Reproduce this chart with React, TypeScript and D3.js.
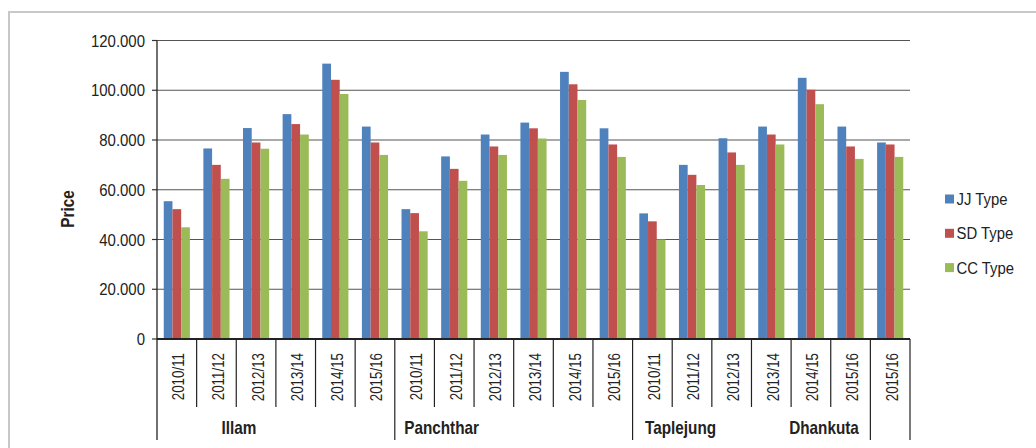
import React from "react";
import * as d3 from "d3";

const districts = ["Illam", "Panchthar", "Taplejung", "Dhankuta"];
const districtCounts = [6, 6, 6, 1];
const districtLabelAt = [2.07, 7.18, 13.21, 16.83];
const years = [
  "2010/11", "2011/12", "2012/13", "2013/14", "2014/15", "2015/16",
  "2010/11", "2011/12", "2012/13", "2013/14", "2014/15", "2015/16",
  "2010/11", "2011/12", "2012/13", "2013/14", "2014/15", "2015/16",
  "2015/16",
];
const seriesNames = ["JJ Type", "SD Type", "CC Type"];
const jj = [55.4, 76.6, 84.8, 90.4, 110.7, 85.4, 52.2, 73.4, 82.2, 87.0, 107.4, 84.7, 50.5, 70.0, 80.7, 85.4, 105.0, 85.4, 79.0];
const sd = [52.2, 70.0, 79.0, 86.4, 104.2, 79.0, 50.6, 68.4, 77.4, 84.7, 102.4, 78.2, 47.3, 66.0, 75.0, 82.2, 100.2, 77.4, 78.2];
const cc = [44.9, 64.4, 76.5, 82.2, 98.5, 74.0, 43.3, 63.6, 74.0, 80.6, 96.1, 73.2, 40.0, 61.9, 70.0, 78.2, 94.4, 72.4, 73.2];
const yTicks = [0, 20, 40, 60, 80, 100, 120];
const colors = ["#4F81BD", "#C0504D", "#9BBB59"];

const FONT = "'Liberation Sans', Arial, sans-serif";
const W = 1036;
const H = 448;
const left = 157;
const right = 910;
const top = 40.5;
const bottom = 339;

type TProps = {
  x: number;
  y: number;
  rotate?: number;
  sx: number;
  size: number;
  anchor: "start" | "middle" | "end";
  bold?: boolean;
  children: React.ReactNode;
};

function T({ x, y, rotate = 0, sx, size, anchor, bold, children }: TProps) {
  return (
    <text
      transform={`translate(${x},${y}) rotate(${rotate}) scale(${sx},1)`}
      textAnchor={anchor}
      dy="0.36em"
      fontFamily={FONT}
      fontSize={size}
      fontWeight={bold ? "bold" : "normal"}
      fill="#222"
    >
      {children}
    </text>
  );
}

export default function App() {
  const series = [jj, sd, cc];
  const idx = years.map((_, i) => i);
  const x = d3.scaleBand<number>().domain(idx).range([left, right]).paddingInner(0).paddingOuter(0);
  const y = d3.scaleLinear().domain([0, 120]).range([bottom, top]);
  const bw = x.bandwidth();
  const inner = d3.scaleBand<number>().domain([0, 1, 2]).range([0, bw * 0.66]);
  const groupOffset = (bw - bw * 0.66) / 2;

  const bounds: number[] = [0];
  districtCounts.reduce((acc, c) => {
    bounds.push(acc + c);
    return acc + c;
  }, 0);
  const posAt = (k: number) => left + k * bw;

  return (
    <svg width={W} height={H} style={{ display: "block", position: "absolute", left: 0, top: 0 }}>
      <rect x={0} y={0} width={W} height={H} fill="#fff" />
      <rect x={9} y={12} width={W + 20} height={H + 20} fill="none" stroke="#c8c8c8" strokeWidth={2} />
      {yTicks.map((t) => (
        <g key={t}>
          {t > 0 && <line x1={left} x2={right} y1={y(t)} y2={y(t)} stroke="#555" strokeWidth={1.2} />}
          <line x1={left - 5} x2={left} y1={y(t)} y2={y(t)} stroke="#333" strokeWidth={1.2} />
          <T x={left - 12} y={y(t)} sx={0.88} size={17} anchor="end">
            {t === 0 ? "0" : d3.format(".3f")(t)}
          </T>
        </g>
      ))}
      {idx.map((i) =>
        series.map((s, k) => (
          <rect
            key={`${i}-${k}`}
            x={(x(i) as number) + groupOffset + (inner(k) as number)}
            y={y(s[i])}
            width={inner.bandwidth()}
            height={bottom - y(s[i])}
            fill={colors[k]}
          />
        ))
      )}
      <line x1={left} x2={left} y1={top} y2={440} stroke="#222" strokeWidth={1.3} />
      <line x1={left} x2={right} y1={bottom} y2={bottom} stroke="#222" strokeWidth={2} />
      {idx.slice(1).map((i) =>
        bounds.includes(i) ? null : (
          <line key={i} x1={x(i)} x2={x(i)} y1={bottom} y2={407} stroke="#222" strokeWidth={1.2} />
        )
      )}
      {bounds.slice(1).map((b) => (
        <line key={b} x1={posAt(b)} x2={posAt(b)} y1={bottom} y2={440} stroke="#222" strokeWidth={1.2} />
      ))}
      {idx.map((i) => (
        <T key={i} x={(x(i) as number) + bw / 2 + 1.5} y={353} rotate={-90} sx={0.81} size={16.5} anchor="end">
          {years[i]}
        </T>
      ))}
      {districts.map((d, i) => (
        <T key={d} x={posAt(districtLabelAt[i])} y={428} sx={0.85} size={18} anchor="middle" bold>
          {d}
        </T>
      ))}
      <T x={67.5} y={209} rotate={-90} sx={0.85} size={18} anchor="middle" bold>
        Price
      </T>
      {seriesNames.map((n, k) => (
        <g key={n} transform={`translate(945,${199 + k * 34.3})`}>
          <rect x={0} y={-4.5} width={9} height={9} fill={colors[k]} />
          <T x={11.5} y={0} sx={0.875} size={17} anchor="start">
            {n}
          </T>
        </g>
      ))}
    </svg>
  );
}
